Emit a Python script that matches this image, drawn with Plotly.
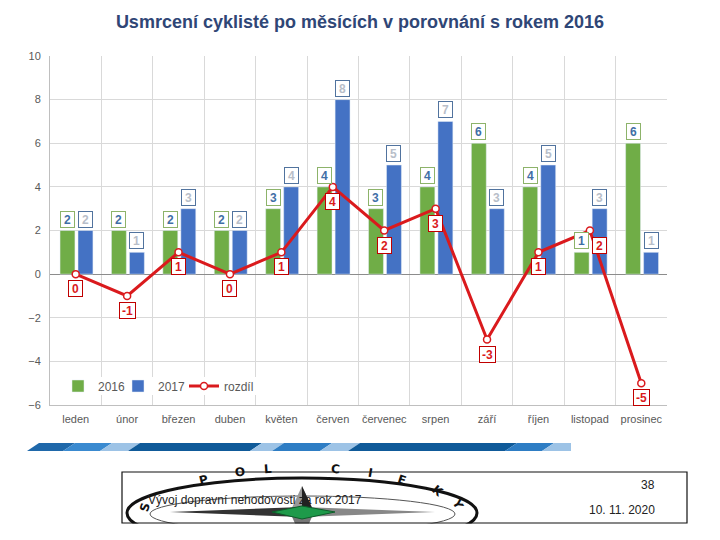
import plotly.graph_objects as go

months = ["leden", "únor", "březen", "duben", "květen", "červen",
          "červenec", "srpen", "září", "říjen", "listopad", "prosinec"]
y2016 = [2, 2, 2, 2, 3, 4, 3, 4, 6, 4, 1, 6]
y2017 = [2, 1, 3, 2, 4, 8, 5, 7, 3, 5, 3, 1]
rozdil = [0, -1, 1, 0, 1, 4, 2, 3, -3, 1, 2, -5]
yticks = [-6, -4, -2, 0, 2, 4, 6, 8, 10]

title = "Usmrcení cyklisté po měsících v porovnání s rokem 2016"
footer_text = "Vývoj dopravní nehodovosti za rok 2017"
page_no = "38"
date_text = "10. 11. 2020"

GREEN = "#70AD47"
BLUE = "#4472C4"
RED = "#DA1A1D"
FONT = "Liberation Sans, Arial, sans-serif"

# plot area in pixels
L, R, T, B = 50, 667, 56, 405
W, H = 720, 540


def px(x):
    return (x - L) / (R - L)


def py(y):
    return (B - y) / (B - T)


idx = list(range(len(months)))
BW = 0.29
OFF_G = -0.305
OFF_B = 0.045

fig = go.Figure()
fig.add_trace(go.Bar(x=idx, y=y2016, name="2016", marker_color=GREEN,
                     width=BW, offset=OFF_G, hoverinfo="skip", legend="legend"))
fig.add_trace(go.Bar(x=idx, y=y2017, name="2017", marker_color=BLUE,
                     width=BW, offset=OFF_B, hoverinfo="skip", legend="legend2"))
fig.add_trace(go.Scatter(x=idx, y=rozdil, name="rozdíl", mode="lines+markers",
                         line=dict(color=RED, width=3),
                         marker=dict(size=7, color="white",
                                     line=dict(color=RED, width=1.5)),
                         hoverinfo="skip", legend="legend3"))

ann = []
for i in idx:
    ann.append(dict(x=i + OFF_G + BW / 2, y=y2016[i], xref="x", yref="y",
                    text="<b>%d</b>" % y2016[i], showarrow=False,
                    yanchor="bottom", yshift=3, width=11, height=13,
                    font=dict(family=FONT, size=12, color="#3F6FA6"),
                    bgcolor="white", bordercolor="#8DB36A", borderwidth=1,
                    borderpad=1))
    ann.append(dict(x=i + OFF_B + BW / 2, y=y2017[i], xref="x", yref="y",
                    text="<b>%d</b>" % y2017[i], showarrow=False,
                    yanchor="bottom", yshift=3, width=11, height=13,
                    font=dict(family=FONT, size=12, color="#B8BEC9"),
                    bgcolor="white", bordercolor="#51739E", borderwidth=1,
                    borderpad=1))
    ann.append(dict(x=i, y=rozdil[i], xref="x", yref="y",
                    text="<b>%d</b>" % rozdil[i], showarrow=False,
                    yanchor="top", yshift=-6, xshift=(10 if i == 10 else 0),
                    width=13 if rozdil[i] < 0 else 11, height=13,
                    font=dict(family=FONT, size=12, color=RED),
                    bgcolor="white", bordercolor="#C00000", borderwidth=1,
                    borderpad=1))

# footer texts
ann.append(dict(x=px(146), y=py(500), xref="paper", yref="paper",
                text=footer_text, showarrow=False, xanchor="left",
                yanchor="middle", font=dict(family=FONT, size=12, color="#222")))
ann.append(dict(x=px(657), y=py(485), xref="paper", yref="paper",
                text=page_no, showarrow=False, xanchor="right",
                yanchor="middle", font=dict(family=FONT, size=12, color="#222")))
ann.append(dict(x=px(657), y=py(510), xref="paper", yref="paper",
                text=date_text, showarrow=False, xanchor="right",
                yanchor="middle", font=dict(family=FONT, size=12, color="#222")))

# emblem letters
letters = [("S", 135, 516, -75), ("P", 195, 490, -14), ("O", 232, 482, -8),
           ("L", 268, 478, -4), ("C", 335, 479, 5), ("I", 370, 483, 10),
           ("E", 402, 490, 18), ("K", 438, 502, 40), ("Y", 458, 514, 62)]
for t, lx, ly, rot in letters:
    ann.append(dict(x=px(lx), y=py(ly), xref="paper", yref="paper", text="<b>%s</b>" % t,
                    showarrow=False, textangle=rot,
                    font=dict(family="DejaVu Sans, sans-serif", size=12, color="#111")))

shapes = []
# white background behind the legend (inside plot area)
shapes.append(dict(type="rect", xref="paper", yref="paper",
                   x0=px(62), x1=px(256), y0=py(395), y1=py(377),
                   fillcolor="white", line=dict(width=0), layer="above"))
# blue stripe band
band = [(27, 63, "#1F68AA"), (63, 100, "#3A8AD0"), (100, 128, "#9DC3E6"),
        (128, 250, "#0F5A99"), (250, 272, "#9DC3E6"), (272, 320, "#2E7DC4"),
        (320, 348, "#9DC3E6"), (348, 505, "#0F5A99"), (505, 542, "#2E7DC4"),
        (542, 571, "#9DC3E6")]
yt, yb, sl = 443, 451, 12
for k, (a, b, c) in enumerate(band):
    a_top = a + sl
    b_top = b + sl if k < len(band) - 1 else b
    b_bot = b
    path = "M %f,%f L %f,%f L %f,%f L %f,%f Z" % (
        px(a_top), py(yt), px(b_top), py(yt), px(b_bot), py(yb), px(a), py(yb))
    shapes.append(dict(type="path", xref="paper", yref="paper", path=path,
                       fillcolor=c, line=dict(width=0), layer="above"))

# emblem ring
shapes.append(dict(type="circle", xref="paper", yref="paper",
                   x0=px(127), x1=px(477), y0=py(478), y1=py(548),
                   line=dict(color="#111", width=3), layer="above"))
shapes.append(dict(type="circle", xref="paper", yref="paper",
                   x0=px(150), x1=px(455), y0=py(496), y1=py(532),
                   line=dict(color="#555", width=1), layer="above"))
# star
cx, cy = 302, 512
star_pts = [(302, 486, "#999"), (435, 512, "#888"), (302, 540, "#777"), (170, 512, "#333")]
for (sx, sy, col) in star_pts:
    if sx == cx:
        p = "M %f,%f L %f,%f L %f,%f Z" % (px(cx - 12), py(cy), px(sx), py(sy), px(cx + 12), py(cy))
    else:
        p = "M %f,%f L %f,%f L %f,%f Z" % (px(cx), py(cy - 5), px(sx), py(sy), px(cx), py(cy + 5))
    shapes.append(dict(type="path", xref="paper", yref="paper", path=p,
                       fillcolor=col, line=dict(width=0), layer="above"))
shapes.append(dict(type="path", xref="paper", yref="paper",
                   path="M %f,%f L %f,%f L %f,%f Z" % (px(cx), py(cy), px(cx), py(486), px(cx + 12), py(cy)),
                   fillcolor="#222", line=dict(width=0), layer="above"))
shapes.append(dict(type="path", xref="paper", yref="paper",
                   path="M %f,%f L %f,%f L %f,%f L %f,%f Z" % (
                       px(272), py(512), px(302), py(506), px(335), py(512), px(302), py(519)),
                   fillcolor="#1E9A4A", line=dict(color="#0D5E2A", width=1), layer="above"))
# cover below box
shapes.append(dict(type="rect", xref="paper", yref="paper",
                   x0=px(110), x1=px(700), y0=py(523.5), y1=py(560),
                   fillcolor="white", line=dict(width=0), layer="above"))
# footer box
shapes.append(dict(type="rect", xref="paper", yref="paper",
                   x0=px(122), x1=px(687), y0=py(472), y1=py(523),
                   fillcolor="rgba(0,0,0,0)", line=dict(color="#111", width=1.2),
                   layer="above"))

legend_font = dict(family=FONT, size=12, color="#595959")


def leg(xpx):
    return dict(orientation="h", x=px(xpx), y=py(386), xanchor="left",
                yanchor="middle", bgcolor="rgba(0,0,0,0)", font=legend_font,
                itemwidth=30)


fig.update_layout(
    width=W, height=H,
    margin=dict(l=L, r=W - R, t=T, b=H - B),
    paper_bgcolor="white", plot_bgcolor="white",
    title=dict(text="<b>%s</b>" % title, x=0.5, xref="container",
               y=1 - 22 / H, yref="container", yanchor="middle", xanchor="center",
               font=dict(family=FONT, size=18, color="#2F4676")),
    font=dict(family=FONT, size=11, color="#595959"),
    xaxis=dict(range=[-0.5, 11.5], tickvals=idx, ticktext=months,
               showgrid=False, zeroline=False, showline=True,
               linecolor="#BFBFBF", linewidth=1, mirror=False, ticks="",
               ticklabelstandoff=4,
               tickfont=dict(size=11, color="#595959"),
               minor=dict(tick0=0.5, dtick=1, showgrid=True,
                          gridcolor="#D9D9D9", gridwidth=1)),
    yaxis=dict(range=[-6, 10], tickvals=yticks, showgrid=True,
               gridcolor="#D9D9D9", gridwidth=1, zeroline=True,
               zerolinecolor="#8C8C8C", zerolinewidth=1, showline=True,
               linecolor="#BFBFBF", linewidth=1, ticks="",
               ticklabelstandoff=6,
               tickfont=dict(size=11, color="#595959")),
    showlegend=True,
    legend=leg(58),
    legend2=leg(118),
    legend3=leg(184),
    annotations=ann,
    shapes=shapes,
)

fig.write_html("out.html", config={"displayModeBar": False},
               post_script="document.body.style.margin='0px';")
